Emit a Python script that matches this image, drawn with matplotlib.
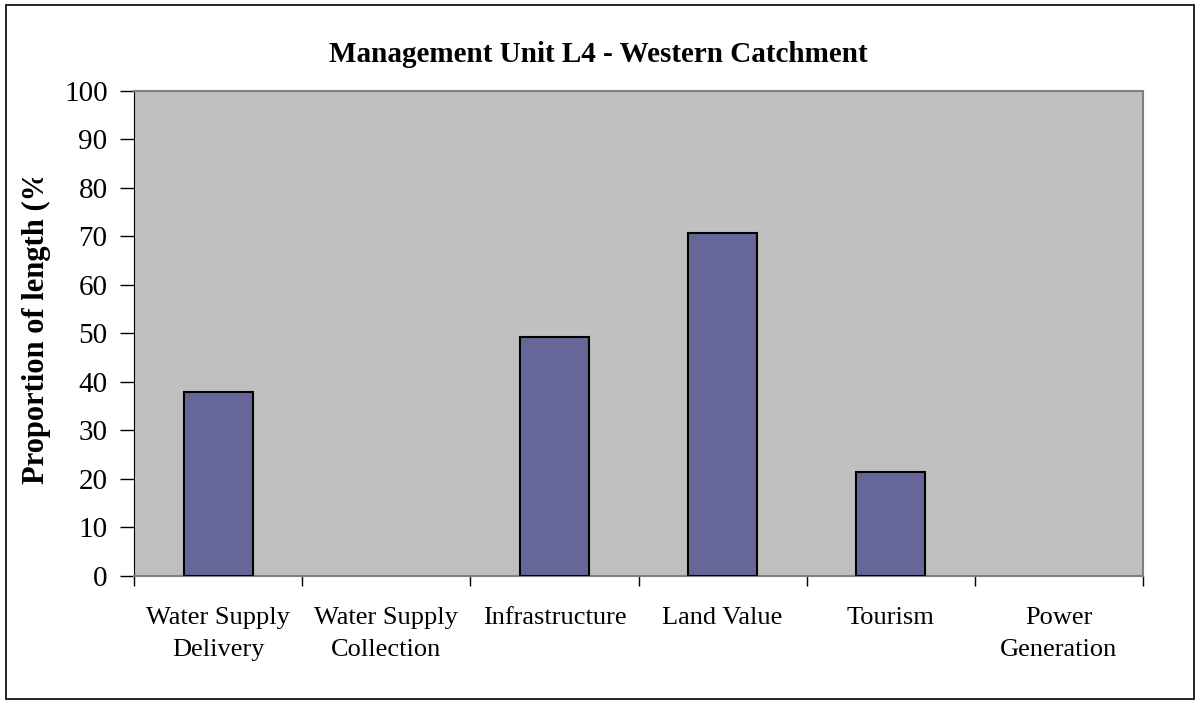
import matplotlib.pyplot as plt
from matplotlib.patches import Rectangle
from matplotlib.transforms import Bbox, TransformedBbox

categories = ["Water Supply\nDelivery", "Water Supply\nCollection", "Infrastructure",
              "Land Value", "Tourism", "Power\nGeneration"]
values = [37.8, 0, 49.2, 70.6, 21.4, 0]
y_ticks = [0, 10, 20, 30, 40, 50, 60, 70, 80, 90, 100]

plt.rcParams['font.family'] = ['Liberation Serif', 'DejaVu Serif']

fig = plt.figure(figsize=(11.97, 7.04), dpi=100)
ax = fig.add_axes([134 / 1197, 1 - 576 / 704, (1143 - 134) / 1197, (576 - 90.5) / 704])
ax.set_facecolor("#C0C0C0")

x = list(range(len(categories)))
# zero-length bars show nothing in the original
edges = ["black" if v > 0 else "none" for v in values]
ax.bar(x, values, width=0.41, color="#666699", edgecolor=edges, linewidth=1.5, zorder=3)

ax.set_xlim(-0.5, len(categories) - 0.5)
ax.set_ylim(0, 100)
ax.set_yticks(y_ticks)
ax.tick_params(axis="y", direction="out", length=10, width=1, labelsize=21, pad=9)

# labels on the category centres, tick marks on the boundaries
ax.set_xticks(x)
ax.set_xticklabels(categories, fontsize=19, linespacing=1.6)
ax.tick_params(axis="x", which="major", length=0, pad=22)
ax.set_xticks([i - 0.5 for i in range(len(categories) + 1)], minor=True)
ax.tick_params(axis="x", which="minor", direction="out", length=7, width=1)

for side in ["top", "right", "bottom"]:
    ax.spines[side].set_color("#808080")
    ax.spines[side].set_linewidth(1.5)
ax.spines["left"].set_color("black")

# y label is cut off at the top in the original
ylab = fig.text(36 / 1197, 1 - 484 / 704, "Proportion of length (%)", rotation=90,
                ha="center", va="bottom", fontsize=22, fontweight="bold")
clip = TransformedBbox(Bbox([[0, 0], [1, 1 - 178 / 704]]), fig.transFigure)
ylab.set_clip_box(clip)
ylab.set_clip_on(True)

fig.text(0.5, 1 - 55 / 704, "Management Unit L4 - Western Catchment",
         ha="center", va="center", fontsize=21, fontweight="bold")

fig.patches.append(Rectangle((6 / 1197, 5 / 704), 1188 / 1197, 694 / 704,
                             transform=fig.transFigure, fill=False,
                             edgecolor="black", linewidth=1.2))

fig.savefig("out.png", dpi=100)
